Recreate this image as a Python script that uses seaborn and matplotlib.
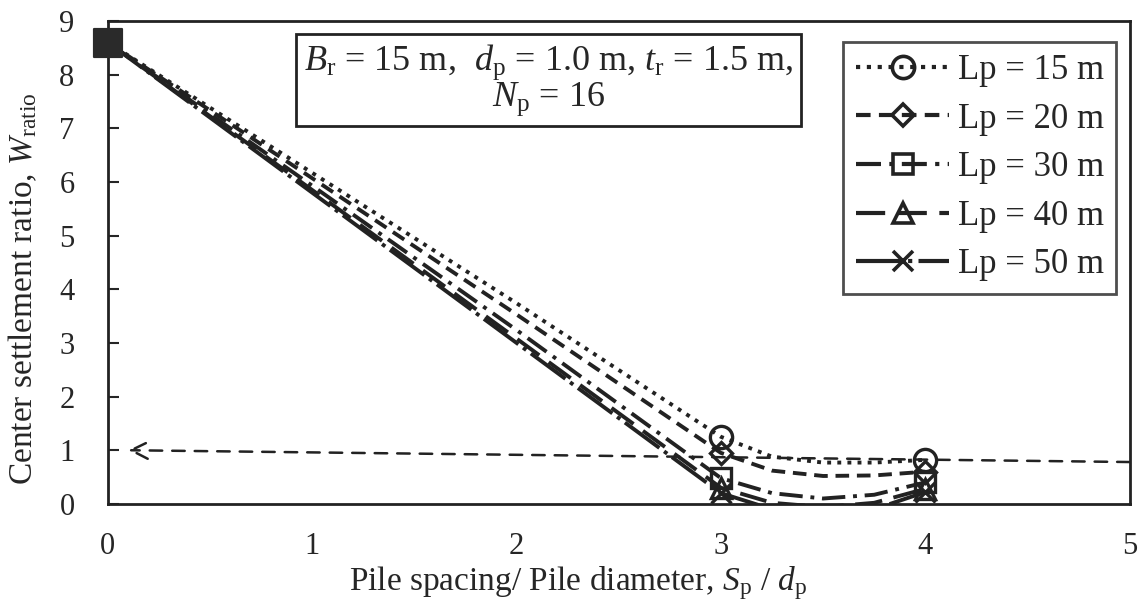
import numpy as np
import pandas as pd
import matplotlib
matplotlib.use("Agg")
import matplotlib.pyplot as plt
from matplotlib.lines import Line2D
import seaborn as sns

# ---- data ----
x_ratio = [0, 1, 2, 3, 3.25, 3.5, 3.75, 4]
w_lp15 = [8.6, 6.17, 3.74, 1.25, 0.88, 0.77, 0.77, 0.82]
w_lp20 = [8.6, 6.07, 3.53, 0.95, 0.62, 0.52, 0.53, 0.60]
w_lp30 = [8.6, 5.93, 3.24, 0.48, 0.20, 0.10, 0.17, 0.40]
w_lp40 = [8.6, 5.85, 3.08, 0.30, 0.02, -0.06, 0.02, 0.28]
w_lp50 = [8.6, 5.80, 3.00, 0.20, -0.10, -0.20, -0.10, 0.22]
labels = ["Lp = 15 m", "Lp = 20 m", "Lp = 30 m", "Lp = 40 m", "Lp = 50 m"]
ref_x = [5.0, 0.1]
ref_y = [0.78, 1.0]
start_x = [0]
start_y = [8.6]
x_ticks = [0, 1, 2, 3, 4, 5]
y_ticks = [0, 1, 2, 3, 4, 5, 6, 7, 8, 9]

sns.set_style("ticks")
plt.rcParams["font.family"] = ["Liberation Serif", "DejaVu Serif"]
plt.rcParams["mathtext.fontset"] = "custom"
plt.rcParams["mathtext.rm"] = "Liberation Serif"
plt.rcParams["mathtext.it"] = "Liberation Serif:italic"

fig = plt.figure(figsize=(11.48, 6.02), dpi=100)
ax = fig.add_axes([0.094, 0.163, 0.890, 0.802])

series = [w_lp15, w_lp20, w_lp30, w_lp40, w_lp50]
styles = [(0, (1, 1.6)), (0, (3.5, 2)), (0, (6, 2, 1, 2)), (0, (7, 3)), (0, (11, 1.5, 1, 1.5))]
markers = ["o", "D", "s", "^", "x"]
msizes = [16, 11, 15, 14, 15]

handles = []
for ys, lab, ls, mk, ms in zip(series, labels, styles, markers, msizes):
    df = pd.DataFrame({"x": x_ratio, "y": ys})
    sns.lineplot(data=df, x="x", y="y", ax=ax, color="#222222", linestyle=ls,
                 linewidth=2.8, marker=mk, markersize=ms, markevery=[3, 7],
                 markerfacecolor="none", markeredgecolor="#222222",
                 markeredgewidth=2.4, sort=False, legend=False)
    handles.append(Line2D([0], [0], color="#222222", linestyle=ls, linewidth=3.0,
                          marker=mk, markersize=ms, markerfacecolor="none",
                          markeredgecolor="#222222", markeredgewidth=2.6, label=lab))

# big filled square at the start
sns.scatterplot(x=start_x, y=start_y, ax=ax, marker="s", s=380, color="#2a2a2a",
                edgecolor="#2a2a2a", zorder=6, clip_on=False, legend=False)

# reference dashed arrow line
ax.annotate("", xy=(ref_x[1], ref_y[1]), xytext=(ref_x[0], ref_y[0]),
            arrowprops=dict(arrowstyle="->", color="#222222", lw=1.8,
                            linestyle=(0, (5, 4)), mutation_scale=30,
                            shrinkA=0, shrinkB=0))

ax.set_xlim(0, 5)
ax.set_ylim(0, 9)
ax.set_xticks(x_ticks)
ax.set_yticks(y_ticks)
ax.tick_params(axis="y", direction="in", length=8, width=1.5, labelsize=22, pad=24)
ax.tick_params(axis="x", length=0, labelsize=22, pad=20)
for s in ax.spines.values():
    s.set_linewidth(2)
    s.set_color("#222222")

ax.set_xlabel(r"Pile spacing/ Pile diameter, $S_{\mathrm{p}}$ / $d_{\mathrm{p}}$", fontsize=24)
ax.set_ylabel(r"Center settlement ratio, $W_{\mathrm{ratio}}$", fontsize=24)
ax.xaxis.set_label_coords(0.46, -0.125)
ax.yaxis.set_label_coords(-0.067, 0.445)

ax.text(0.4315, 0.878,
        r"$B_{\mathrm{r}}$ = 15 m,  $d_{\mathrm{p}}$ = 1.0 m, $t_{\mathrm{r}}$ = 1.5 m," + "\n" + r"$N_{\mathrm{p}}$ = 16",
        transform=ax.transAxes, ha="center", va="center", fontsize=26, linespacing=0.95,
        bbox=dict(boxstyle="square,pad=0.22", facecolor="white", edgecolor="#222222", linewidth=2))

leg = ax.legend(handles=handles, loc="upper right", bbox_to_anchor=(0.987, 0.957),
                fontsize=25, frameon=True, fancybox=False, handlelength=2.7,
                handletextpad=0.25, labelspacing=0.45, borderpad=0.35, borderaxespad=0.0)
leg.get_frame().set_edgecolor("#222222")
leg.get_frame().set_linewidth(2)

fig.savefig("out.png", dpi=100)
